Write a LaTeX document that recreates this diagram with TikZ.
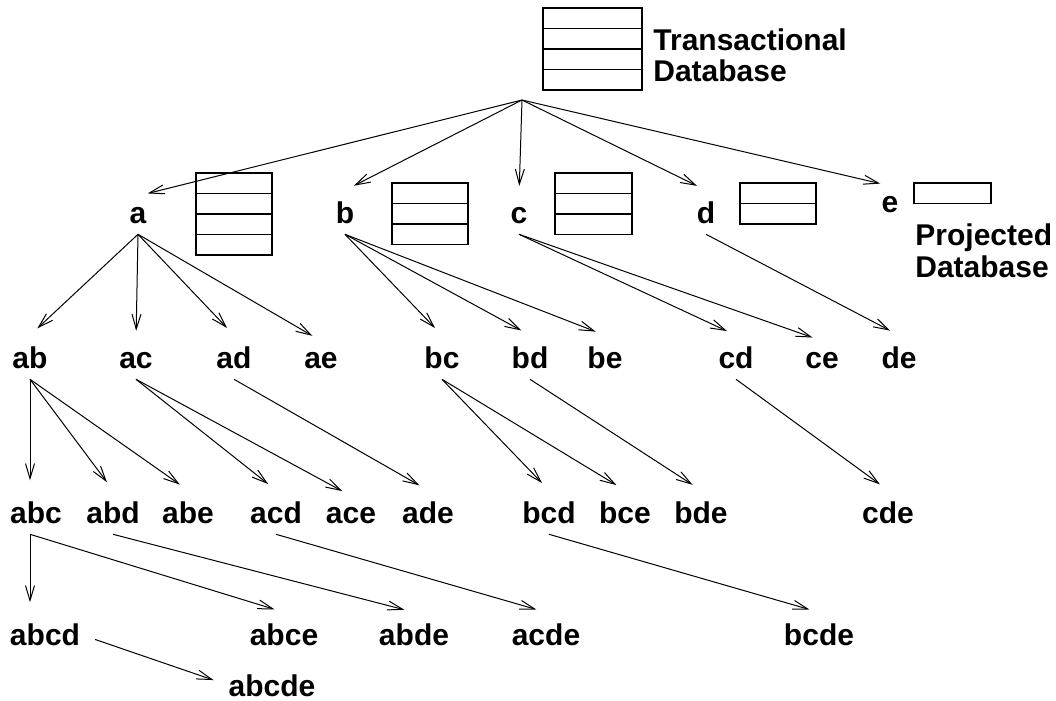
\documentclass[tikz,border=0pt]{standalone}
\usepackage{fontspec}
\setmainfont{Liberation Sans}
\usetikzlibrary{arrows.meta}

\begin{document}
\begin{tikzpicture}[
  x=0.5pt, y=-0.5pt,
  font=\fontsize{15}{15.5}\selectfont\bfseries,
  lbl/.style={inner sep=0pt,outer xsep=0pt,outer ysep=5.5pt,anchor=base},
  note/.style={inner sep=0pt,anchor=north west,align=left},
  dbrow/.style={draw,line width=0.7pt},
  arrow/.style={-{Straight Barb[length=7.5pt,width=4.5pt]},line width=0.5pt,shorten >=5pt}
]
  \useasboundingbox (0,0) rectangle (1056,701);

  % database stacks: left x / top y / width / number of rows
  \foreach \x/\y/\w/\n in {543/8/99/4, 196/173/76/4, 392/183/76/3,
                           555/173/77/3, 740/183/76/2, 914/183/77/1}
    \foreach \i in {1,...,\n}
      \draw[dbrow] (\x,\y+20.5*\i-20.5) rectangle ++(\w,20.5);

  \node[note] (tdb) at (653,28) {Transactional\\Database};
  \node[note,font=\fontsize{15}{16}\selectfont\bfseries] (pdb) at (915,223) {Projected\\Database};

  \coordinate (root) at (522,100);

  % single items
  \node[lbl] (a) at (138,223) {a};
  \node[lbl] (b) at (345,223) {b};
  \node[lbl] (c) at (519,223) {c};
  \node[lbl] (d) at (706,223) {d};
  \node[lbl] (e) at (890,213) {e};

  % pairs
  \node[lbl] (ab) at (30,368) {ab};
  \node[lbl] (ac) at (136,368) {ac};
  \node[lbl] (ad) at (234,368) {ad};
  \node[lbl] (ae) at (321,368) {ae};
  \node[lbl] (bc) at (442,368) {bc};
  \node[lbl] (bd) at (530,368) {bd};
  \node[lbl] (be) at (605,368) {be};
  \node[lbl] (cd) at (736,368) {cd};
  \node[lbl] (ce) at (822,368) {ce};
  \node[lbl] (de) at (899,368) {de};

  % triples
  \node[lbl] (abc) at (36,523) {abc};
  \node[lbl] (abd) at (113,523) {abd};
  \node[lbl] (abe) at (188,523) {abe};
  \node[lbl] (acd) at (276,523) {acd};
  \node[lbl] (ace) at (351,523) {ace};
  \node[lbl] (ade) at (428,523) {ade};
  \node[lbl] (bcd) at (549,523) {bcd};
  \node[lbl] (bce) at (625,523) {bce};
  \node[lbl] (bde) at (701,523) {bde};
  \node[lbl] (cde) at (888,523) {cde};

  % quadruples and the full set
  \node[lbl] (abcd) at (45,645) {abcd};
  \node[lbl] (abce) at (284,645) {abce};
  \node[lbl] (abde) at (414,645) {abde};
  \node[lbl] (acde) at (546,645) {acde};
  \node[lbl] (bcde) at (819,645) {bcde};
  \node[lbl] (abcde) at (272,696) {abcde};

  \foreach \t in {a,b,c,d,e}
    \draw[arrow] (root) -- (\t.north);

  \foreach \s/\t in {a/ab, a/ac, a/ad, a/ae, b/bc, b/bd, b/be, c/cd, c/ce, d/de,
                     ab/abd, ab/abe, ac/acd, ac/ace, ad/ade,
                     bc/bcd, bc/bce, bd/bde, cd/cde,
                     abd/abde, acd/acde, bcd/bcde}
    \draw[arrow] (\s.south) -- (\t.north);

  % straight down on the left edge
  \draw[arrow] (ab.south) -- (ab.south |- abc.north);
  \draw[arrow] (abc.south -| ab.south) -- (ab.south |- abcd.north);
  \draw[arrow] (abc.south -| ab.south) -- (abce.north);

  \draw[arrow,shorten <=8pt,shorten >=8pt] (abcd.east) -- (abcde.west);
\end{tikzpicture}
\end{document}
